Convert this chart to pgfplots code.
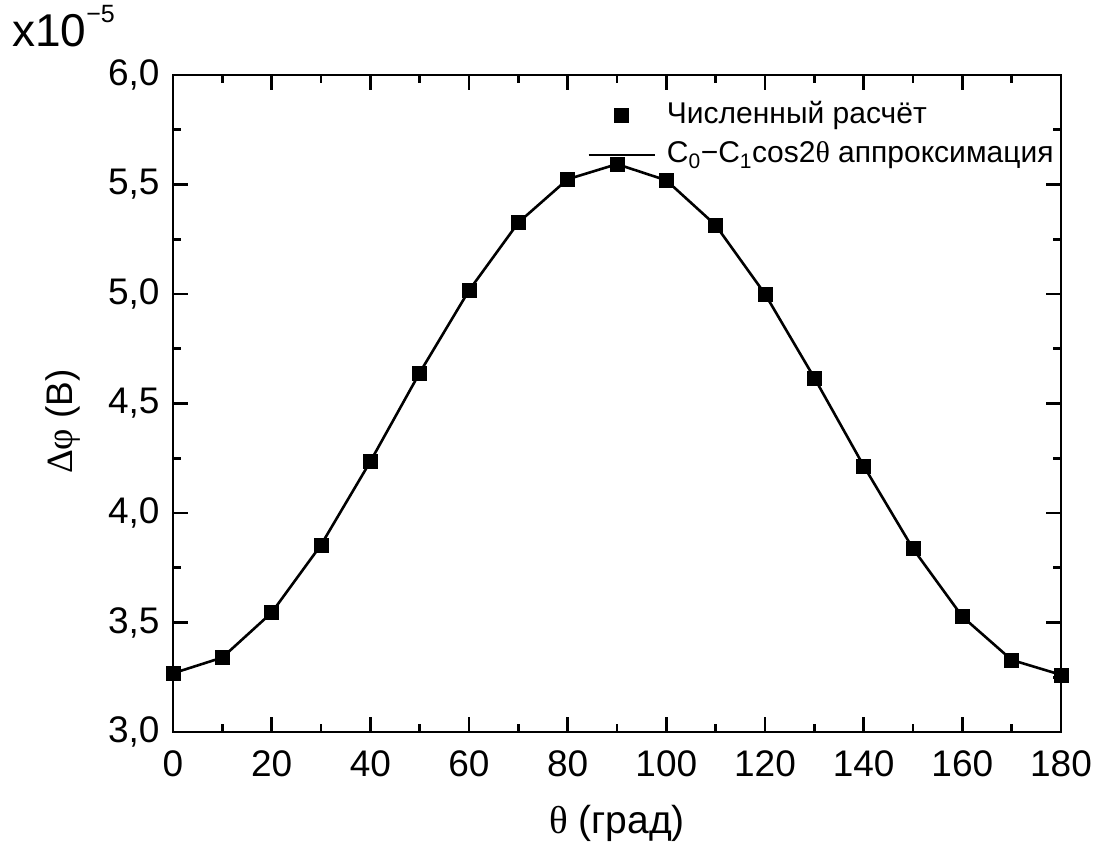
\documentclass[border=0pt]{standalone}
\usepackage{pgfplots}
\pgfplotsset{compat=1.18}
\usepackage{fontspec}
\setmainfont{Liberation Sans}
\newfontfamily\grk{Liberation Serif}
\begin{document}
\fontsize{37}{44}\selectfont
\begin{tikzpicture}
\useasboundingbox (-173pt,-118pt) rectangle (932pt,732pt);
\begin{axis}[
  scale only axis,
  width=888pt, height=657pt,
  xmin=0, xmax=180, ymin=3.0, ymax=6.0,
  xtick={0,20,...,180}, minor x tick num=1,
  ytick={3.0,3.5,...,6.0}, minor y tick num=1,
  tick align=inside,
  major tick length=15pt, minor tick length=8pt,
  axis line style={line width=2.6pt},
  every tick/.style={line width=2.6pt, black},
  tick label style={font=\fontsize{37}{44}\selectfont},
  /pgf/number format/assume math mode=true,
  yticklabel style={/pgf/number format/fixed, /pgf/number format/fixed zerofill,
    /pgf/number format/precision=1, /pgf/number format/use comma, xshift=-1pt},
  xticklabel style={yshift=-6pt},
  xlabel={{\grk θ} (град)},
  xlabel style={font=\fontsize{39}{46}\selectfont, yshift=-4pt},
  legend style={draw=none, fill=none, at={(0.994,0.964)}, anchor=north east,
    font=\fontsize{30}{36}\selectfont, row sep=9pt, inner sep=0pt,
    /tikz/every odd column/.style={column sep=9pt}},
  legend cell align=left,
  legend image code/.code={\draw[mark repeat=2,mark phase=2,#1] plot coordinates {(0pt,0pt) (33pt,0pt) (66pt,0pt)};},
  clip=false,
]
\addplot[only marks, mark=square*, mark size=7pt, black] coordinates {
(0,3.268) (10,3.340) (20,3.545) (30,3.854) (40,4.235) (50,4.640) (60,5.016)
(70,5.326) (80,5.524) (90,5.593) (100,5.519) (110,5.314) (120,5.000)
(130,4.617) (140,4.215) (150,3.837) (160,3.527) (170,3.329) (180,3.261)};
\addlegendentry{Численный расчёт}
\addplot[black, line width=2.6pt, no marks] coordinates {
(0,3.268) (10,3.340) (20,3.545) (30,3.854) (40,4.235) (50,4.640) (60,5.016)
(70,5.326) (80,5.524) (90,5.593) (100,5.519) (110,5.314) (120,5.000)
(130,4.617) (140,4.215) (150,3.837) (160,3.527) (170,3.329) (180,3.261)};
\addlegendentry{C\textsubscript{0}−C\textsubscript{1}cos2{\grk θ} аппроксимация}
\node[anchor=base west, inner sep=0pt, font=\fontsize{46}{52}\selectfont] at (rel axis cs:0,1) [xshift=-161pt, yshift=28pt]
  {x10\raisebox{24pt}{\fontsize{25}{30}\selectfont −5}};
\node[rotate=90, anchor=center, inner sep=0pt, font=\fontsize{37}{44}\selectfont] at (rel axis cs:0,0.5) [xshift=-18pt, yshift=110pt]
  {{\grk Δφ} (В)};
\end{axis}
\end{tikzpicture}
\end{document}
